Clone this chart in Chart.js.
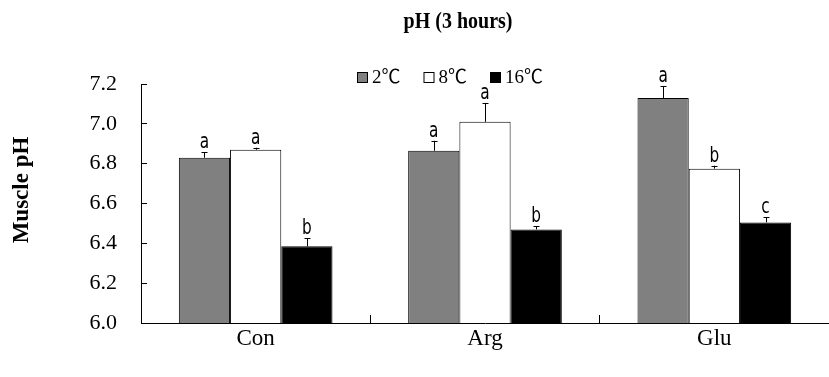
<!DOCTYPE html>
<html>
<head>
<meta charset="utf-8">
<script src="https://cdn.jsdelivr.net/npm/chart.js@4"></script>
<style>
  body { margin: 0; background: #fff; }
  #wrap { width: 829px; height: 377px; }
</style>
</head>
<body>
<div id="wrap"><canvas id="phChart" width="829" height="377"></canvas></div>
<script>
const categories = ['Con', 'Arg', 'Glu'];
const seriesNames = ['2\u2103', '8\u2103', '16\u2103'];

const ph2 = [6.83, 6.865, 7.13];
const ph8 = [6.87, 7.01, 6.775];
const ph16 = [6.385, 6.47, 6.505];

const err2 = [0.027, 0.05, 0.06];
const err8 = [0.01, 0.095, 0.015];
const err16 = [0.04, 0.017, 0.025];

const letters2 = ['a', 'a', 'a'];
const letters8 = ['a', 'a', 'b'];
const letters16 = ['b', 'b', 'c'];

const yTicks = [6.0, 6.2, 6.4, 6.6, 6.8, 7.0, 7.2];

const serif = "'Liberation Serif', 'Times New Roman', serif";

// error bars + significance letters, title, legend, y title
const extras = {
    id: 'extras',
    afterDatasetsDraw(chart) {
        const ctx = chart.ctx;
        const yScale = chart.scales.y;
        const errs = [err2, err8, err16];
        const letters = [letters2, letters8, letters16];

        ctx.save();
        ctx.strokeStyle = '#000';
        ctx.lineWidth = 1;
        chart.data.datasets.forEach((ds, i) => {
            const meta = chart.getDatasetMeta(i);
            meta.data.forEach((bar, j) => {
                const x = Math.round(bar.x) + 0.5;
                const top = yScale.getPixelForValue(ds.data[j] + errs[i][j]);
                ctx.beginPath();
                ctx.moveTo(x, bar.y);
                ctx.lineTo(x, top);
                ctx.moveTo(x - 3, Math.round(top) + 0.5);
                ctx.lineTo(x + 3, Math.round(top) + 0.5);
                ctx.stroke();

                ctx.save();
                ctx.translate(bar.x, top - 4);
                ctx.scale(1, 1.25);
                ctx.fillStyle = '#000';
                ctx.font = "17px 'Liberation Sans Narrow', 'DejaVu Sans Condensed', 'Liberation Sans', sans-serif";
                ctx.textAlign = 'center';
                ctx.textBaseline = 'alphabetic';
                ctx.fillText(letters[i][j], 0, 0);
                ctx.restore();
            });
        });
        ctx.restore();
    },
    afterDraw(chart) {
        const ctx = chart.ctx;
        ctx.save();
        ctx.fillStyle = '#000';

        ctx.save();
        ctx.translate(458, 22);
        ctx.scale(1, 1.15);
        ctx.font = 'bold 20px ' + serif;
        ctx.textAlign = 'center';
        ctx.textBaseline = 'middle';
        ctx.fillText('pH (3 hours)', 0, 0);
        ctx.restore();

        ctx.save();
        ctx.translate(22, 190);
        ctx.rotate(-Math.PI / 2);
        ctx.font = 'bold 23px ' + serif;
        ctx.textAlign = 'center';
        ctx.textBaseline = 'middle';
        ctx.fillText('Muscle pH', 0, 0);
        ctx.restore();

        // legend
        ctx.font = "19px 'Liberation Serif', 'Noto Sans CJK SC', serif";
        ctx.textAlign = 'left';
        ctx.textBaseline = 'middle';
        let lx = 357;
        const ly = 77;
        chart.data.datasets.forEach((ds) => {
            ctx.fillStyle = ds.backgroundColor;
            ctx.fillRect(lx, ly - 5, 11, 11);
            ctx.strokeStyle = '#000';
            ctx.lineWidth = 1;
            ctx.strokeRect(lx + 0.5, ly - 4.5, 10, 10);
            ctx.fillStyle = '#000';
            ctx.fillText(ds.label, lx + 15, ly + 1);
            lx += 15 + ctx.measureText(ds.label).width + 23;
        });
        ctx.restore();
    }
};

const ctx = document.getElementById('phChart').getContext('2d');
const phChart = new Chart(ctx, {
    type: 'bar',
    data: {
        labels: categories,
        datasets: [
            { label: seriesNames[0], data: ph2, backgroundColor: '#808080' },
            { label: seriesNames[1], data: ph8, backgroundColor: '#ffffff' },
            { label: seriesNames[2], data: ph16, backgroundColor: '#000000' }
        ].map(d => Object.assign(d, {
            borderColor: '#000',
            borderWidth: 1,
            borderSkipped: false,
            categoryPercentage: 0.67,
            barPercentage: 1.0
        }))
    },
    options: {
        responsive: false,
        animation: false,
        devicePixelRatio: 1,
        layout: { padding: { top: 84, left: 0, right: 0, bottom: 0 } },
        plugins: {
            legend: { display: false },
            title: { display: false },
            tooltip: { enabled: false }
        },
        scales: {
            x: {
                grid: { offset: true, drawOnChartArea: false, tickLength: -8, color: '#000' },
                border: { color: '#000', width: 1 },
                ticks: { color: '#000', padding: 10, font: { family: serif, size: 23 } },
                afterFit(scale) { scale.height = 54; }
            },
            y: {
                min: 6.0,
                max: 7.2,
                grid: { drawOnChartArea: false, tickLength: -6, color: '#000' },
                border: { color: '#000', width: 1 },
                ticks: {
                    color: '#000',
                    padding: 30,
                    font: { family: serif, size: 22 },
                    callback: (v) => v.toFixed(1)
                },
                afterBuildTicks(scale) { scale.ticks = yTicks.map(v => ({ value: v })); },
                afterFit(scale) { scale.width = 141; }
            }
        }
    },
    plugins: [extras]
});
</script>
</body>
</html>
